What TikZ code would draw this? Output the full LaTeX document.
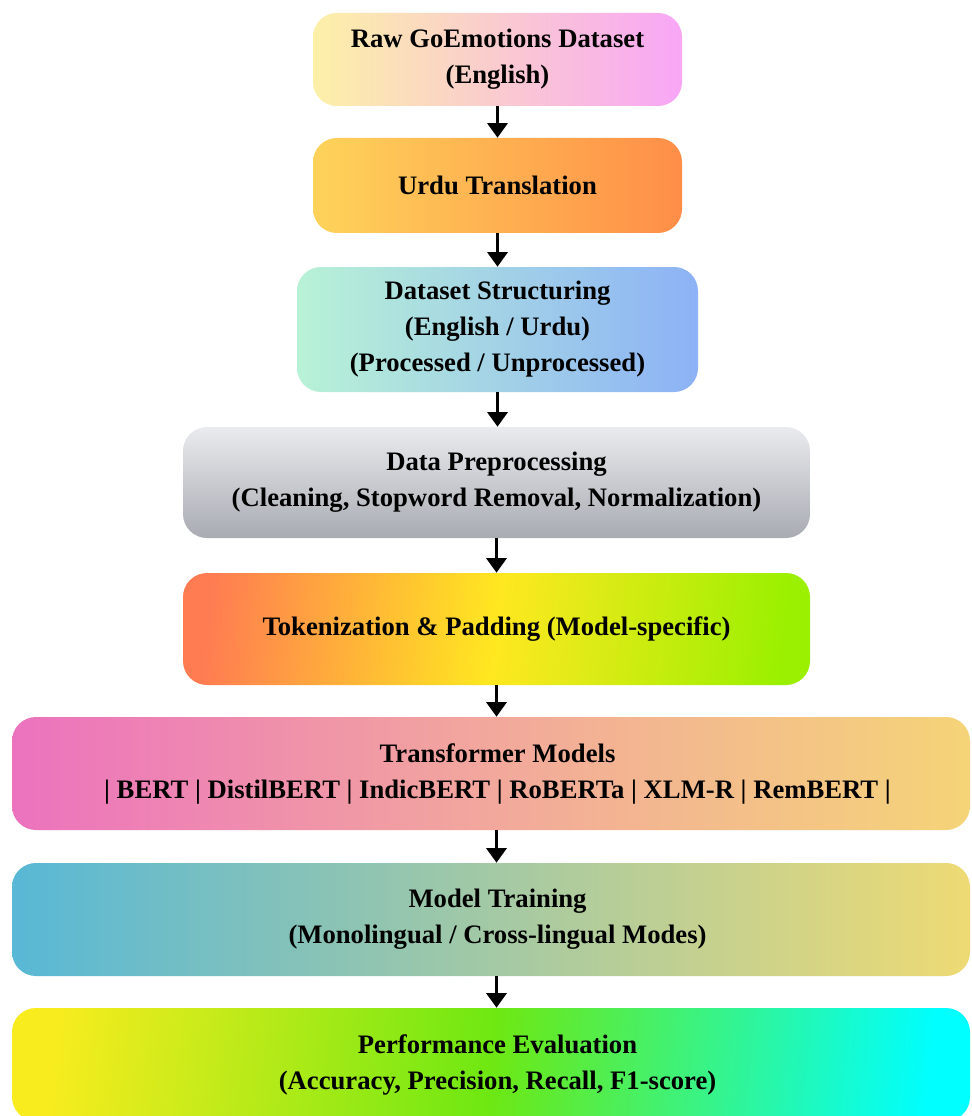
\documentclass[tikz,border=0pt]{standalone}
\usepackage{fontspec}
\setmainfont{Liberation Serif}
\usepackage{tikz}
\usetikzlibrary{arrows.meta}
\definecolor{rawleft}{HTML}{FCF0A8}
\definecolor{rawright}{HTML}{F8A6F6}
\definecolor{urduleft}{HTML}{FED35A}
\definecolor{urduright}{HTML}{FF8E48}
\definecolor{structleft}{HTML}{B8F2D6}
\definecolor{structright}{HTML}{8DB2F6}
\definecolor{prepTop}{HTML}{E9EBEE}
\definecolor{prepBottom}{HTML}{A8ABB2}
\definecolor{tokleft}{HTML}{FF7C52}
\definecolor{tokmid}{HTML}{FFE820}
\definecolor{tokright}{HTML}{9AF000}
\definecolor{modelleft}{HTML}{EC72BE}
\definecolor{modelmid}{HTML}{F2A89C}
\definecolor{modelright}{HTML}{F5D478}
\definecolor{trainleft}{HTML}{58B8D6}
\definecolor{trainright}{HTML}{EEDA74}
\definecolor{evalleft}{HTML}{F8EC1E}
\definecolor{evalmid}{HTML}{6EE812}
\definecolor{evalright}{HTML}{00FFFF}

\begin{document}
\begin{tikzpicture}[x=0.75pt,y=0.75pt,yscale=-1,xscale=1,
  stagefont/.style={font=\fontsize{20}{27}\selectfont\bfseries},
  stagebox/.style={rounded corners=18pt, inner sep=0pt, align=center, stagefont},
  widebox/.style={stagebox, minimum width=718.5pt, minimum height=84.75pt},
  flowarrow/.style={line width=2.6pt, -{Triangle[length=11pt,width=15pt]}}]
\useasboundingbox (0,0) rectangle (971,1116);
\fill[white] (0,0) rectangle (971,1116);
\clip (0,0) rectangle (971,1116);

% Text Node
\node [stagebox, minimum width=276.75pt, minimum height=69.75pt, left color=rawleft, right color=rawright] (raw) at (497.5,59.5) {Raw GoEmotions Dataset\\(English)};
% Text Node
\node [stagebox, minimum width=276.75pt, minimum height=71.25pt, left color=urduleft, right color=urduright] (urdu) at (497.5,185.5) {Urdu Translation};
% Text Node
\node [stagebox, minimum width=300.75pt, minimum height=93.75pt, left color=structleft, right color=structright] (struct) at (497.5,329.5) {Dataset Structuring\\(English / Urdu)\\(Processed / Unprocessed)};
% Text Node
\node [stagebox, minimum width=470.25pt, minimum height=83.25pt, top color=prepTop, bottom color=prepBottom] (prep) at (496.5,482.5) {Data Preprocessing\\(Cleaning, Stopword Removal, Normalization)};
% Text Node
\node [stagebox, minimum width=470.25pt, minimum height=84pt, left color=tokleft, right color=tokright, middle color=tokmid, shading angle=84] (tok) at (496.5,629) {Tokenization \& Padding (Model-specific)};
% Text Node
\node [widebox, left color=modelleft, right color=modelright, middle color=modelmid,
  label={[stagefont, align=center, xshift=4.9pt]center:Transformer Models\\| BERT | DistilBERT | IndicBERT | RoBERTa | XLM-R | RemBERT |}] (models) at (491,773.5) {};
% Text Node
\node [widebox, left color=trainleft, right color=trainright,
  label={[stagefont, align=center, xshift=4.9pt]center:Model Training\\(Monolingual / Cross-lingual Modes)}] (train) at (491,919.5) {};
% Text Node
\node [widebox, left color=evalleft, right color=evalright, middle color=evalmid, shading angle=84,
  label={[stagefont, align=center, xshift=4.9pt]center:Performance Evaluation\\(Accuracy, Precision, Recall, F1-score)}] (eval) at (491,1064.5) {};

%Straight Lines
\draw [flowarrow] (raw.south) -- (urdu.north);
\draw [flowarrow] (urdu.south) -- (struct.north);
\draw [flowarrow] (struct.south) -- (prep.north -| struct.south);
\draw [flowarrow] (prep.south) -- (tok.north);
\draw [flowarrow] (tok.south) -- (tok.south |- models.north);
\draw [flowarrow] (tok.south |- models.south) -- (tok.south |- train.north);
\draw [flowarrow] (tok.south |- train.south) -- (tok.south |- eval.north);

\end{tikzpicture}
\end{document}
